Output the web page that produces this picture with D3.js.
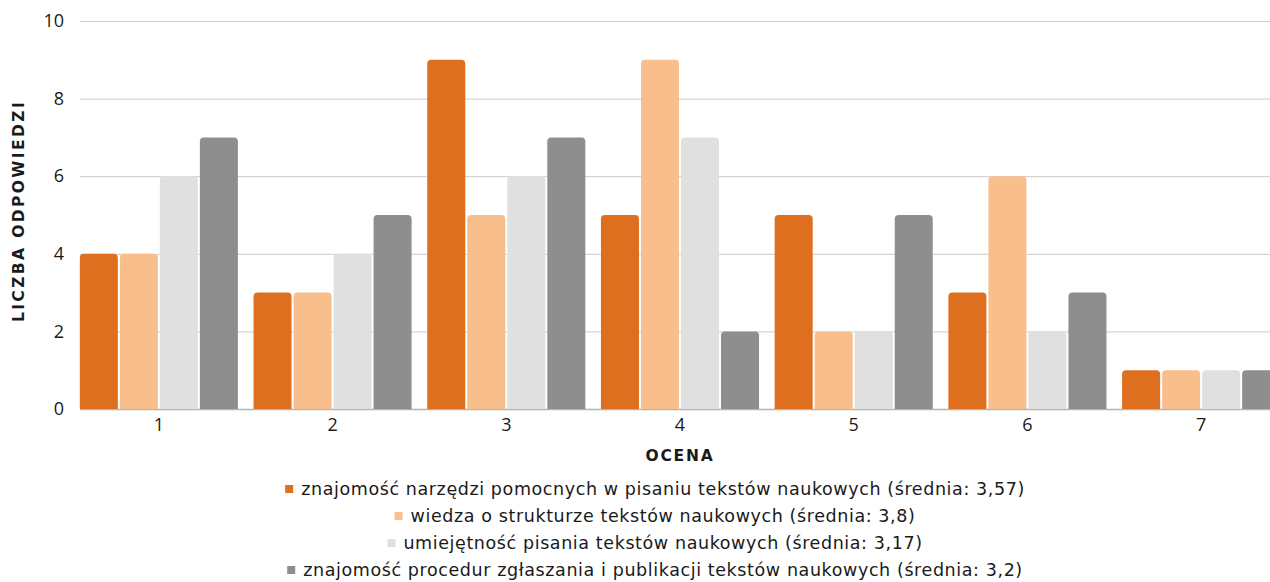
<html>
<head>
    <meta charset="utf-8">
    <script src="https://d3js.org/d3.v7.min.js"></script>
    <style>
        body {
            margin: 0;
            background: white;
        }

        text {
            font-family: "DejaVu Sans", "Noto Sans", sans-serif;
            fill: #1a1a1a;
        }
    </style>
</head>

<body>
    <div id="chart"></div>

    <script>
        // Data
        var oceny = ["1", "2", "3", "4", "5", "6", "7"];
        var seriesNames = [
            "znajomość narzędzi pomocnych w pisaniu tekstów naukowych (średnia: 3,57)",
            "wiedza o strukturze tekstów naukowych (średnia: 3,8)",
            "umiejętność pisania tekstów naukowych (średnia: 3,17)",
            "znajomość procedur zgłaszania i publikacji tekstów naukowych (średnia: 3,2)"
        ];
        var narzedzia = [4, 3, 9, 5, 5, 3, 1];
        var struktura = [4, 3, 5, 9, 2, 6, 1];
        var pisanie = [6, 4, 6, 7, 2, 2, 1];
        var procedury = [7, 5, 7, 2, 5, 3, 1];
        var yTicks = [0, 2, 4, 6, 8, 10];
        var colors = ["#de6f1f", "#f8bf8c", "#e0e0e0", "#8e8e8e"];

        var allSeries = [narzedzia, struktura, pisanie, procedury];

        var width = 1270;
        var height = 582;

        var svg = d3.select("#chart").append("svg")
            .attr("width", width)
            .attr("height", height);

        var xs = d3.scaleBand().domain(oceny).range([72, 1288])
            .paddingInner(0.09).paddingOuter(0.045);
        var xInner = d3.scaleBand().domain(d3.range(4)).range([0, xs.bandwidth()])
            .paddingInner(0.05);
        var ys = d3.scaleLinear().domain([0, 10]).range([409, 21]);

        // gridlines
        svg.append("g")
            .selectAll("line")
            .data(yTicks)
            .enter()
            .append("line")
            .attr("x1", 80)
            .attr("x2", width)
            .attr("y1", function (d) { return ys(d) + 0.5; })
            .attr("y2", function (d) { return ys(d) + 0.5; })
            .attr("stroke", function (d) { return d == 0 ? "#b4b4b4" : "#cccccc"; })
            .attr("stroke-width", function (d) { return d == 0 ? 1.5 : 1; });

        // bar with rounded top corners
        function barPath(x, y, w, h, r) {
            r = Math.min(r, h, w / 2);
            return "M" + x + "," + (y + h) +
                "V" + (y + r) +
                "Q" + x + "," + y + " " + (x + r) + "," + y +
                "H" + (x + w - r) +
                "Q" + (x + w) + "," + y + " " + (x + w) + "," + (y + r) +
                "V" + (y + h) + "Z";
        }

        var groups = svg.append("g")
            .selectAll("g")
            .data(oceny)
            .enter()
            .append("g")
            .attr("transform", function (d) { return "translate(" + xs(d) + ",0)"; });

        groups.selectAll("path")
            .data(function (d, i) {
                return allSeries.map(function (s, k) { return { k: k, v: s[i] }; });
            })
            .enter()
            .append("path")
            .attr("d", function (d) {
                return barPath(xInner(d.k), ys(d.v), xInner.bandwidth(), ys(0) - ys(d.v), 4);
            })
            .attr("fill", function (d) { return colors[d.k]; });

        // Y axis
        var yAxis = svg.append("g")
            .attr("transform", "translate(64,0)")
            .call(d3.axisLeft(ys).tickValues(yTicks).tickSize(0).tickPadding(0));
        yAxis.select(".domain").remove();
        yAxis.selectAll("text")
            .style("font-size", "18px")
            .style("font-family", "'Open Sans', sans-serif")
            .attr("fill", "#1a1a1a");

        svg.append("text")
            .attr("transform", "translate(24,211) rotate(-90)")
            .attr("text-anchor", "middle")
            .style("font-size", "15.5px")
            .style("font-weight", "bold")
            .style("letter-spacing", "2.4px")
            .text("LICZBA ODPOWIEDZI");

        // X axis
        var xAxis = svg.append("g")
            .attr("transform", "translate(0,418)")
            .call(d3.axisBottom(xs).tickSize(0).tickPadding(0));
        xAxis.select(".domain").remove();
        xAxis.selectAll("text")
            .style("font-size", "18px")
            .style("font-family", "'Open Sans', sans-serif")
            .attr("fill", "#1a1a1a");

        svg.append("text")
            .attr("x", 680)
            .attr("y", 461)
            .attr("text-anchor", "middle")
            .style("font-size", "15.5px")
            .style("font-weight", "bold")
            .style("letter-spacing", "1.8px")
            .text("OCENA");

        // Legend, one row per series, centred
        var legendY = [495, 522, 549, 576];
        seriesNames.forEach(function (name, k) {
            var row = svg.append("g");
            row.append("rect")
                .attr("width", 8)
                .attr("height", 8)
                .attr("y", -10)
                .attr("fill", colors[k]);
            var t = row.append("text")
                .attr("x", 16)
                .style("font-size", "17.5px")
                .style("letter-spacing", "0.6px")
                .text(name);
            var w = 16 + t.node().getComputedTextLength();
            row.attr("transform", "translate(" + (655 - w / 2) + "," + legendY[k] + ")");
        });
    </script>
</body>

</html>
